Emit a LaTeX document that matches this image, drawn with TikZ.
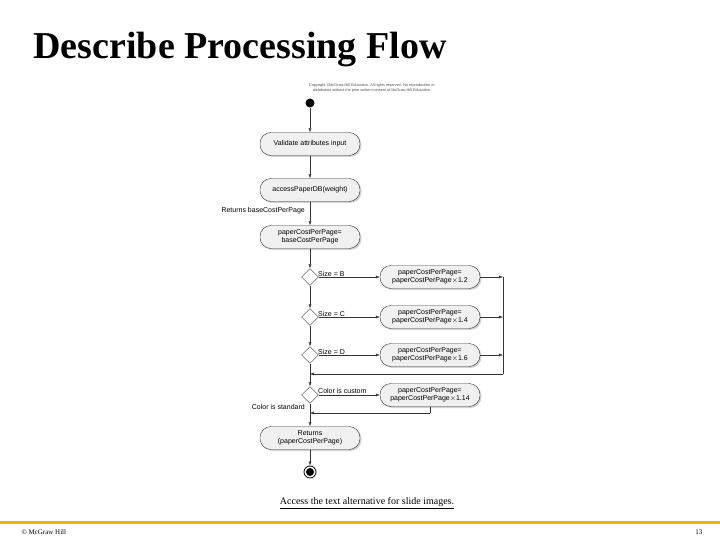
\documentclass[tikz,border=0pt]{standalone}
\usepackage{fontspec}
\setmainfont{Liberation Serif}
\newfontfamily\dsans{Liberation Sans}
\usetikzlibrary{shapes.geometric,arrows.meta,shadows}
\begin{document}
\begin{tikzpicture}[x=1pt,y=-1pt,
 act/.style={draw=black!80,fill=black!6,rounded corners=11pt,minimum width=100pt,minimum height=23pt,align=center,font=\dsans\fontsize{7}{8}\selectfont,drop shadow={shadow xshift=1.5pt,shadow yshift=-1.5pt,fill=black!35}},
 dec/.style={draw=black!80,fill=white,diamond,minimum width=17pt,minimum height=17pt,inner sep=0pt},
 lbl/.style={font=\dsans\fontsize{7}{8}\selectfont,inner sep=1pt},
 ar/.style={draw=black!80,-{Latex[length=4pt,width=3pt]}},
 ln/.style={draw=black!80}]
\useasboundingbox (0,0) rectangle (720,540);
\node[anchor=west,font=\bfseries\fontsize{38}{40}\selectfont] (title) at (30,50) {Describe Processing Flow};
\node[align=center,font=\dsans\fontsize{3.8}{4.4}\selectfont,text=black!70] (copy) at (372,88) {Copyright \copyright McGraw-Hill Education. All rights reserved. No reproduction or\\distribution without the prior written consent of McGraw-Hill Education.};
\node[circle,fill=black,minimum size=9pt,inner sep=0pt] (start) at (310,103) {};
\node[act] (v) at (310,144) {Validate attributes input};
\node[act] (a) at (310,190) {accessPaperDB(weight)};
\node[act] (p) at (310,237) {paperCostPerPage=\\baseCostPerPage};
\node[dec] (d1) at (310,277) {};
\node[dec] (d2) at (310,317) {};
\node[dec] (d3) at (310,355) {};
\node[dec] (d4) at (310,395) {};
\node[act] (b1) at (430,277) {paperCostPerPage=\\paperCostPerPage$\times$1.2};
\node[act] (b2) at (430,317) {paperCostPerPage=\\paperCostPerPage$\times$1.4};
\node[act] (b3) at (430,355) {paperCostPerPage=\\paperCostPerPage$\times$1.6};
\node[act] (b4) at (430,395) {paperCostPerPage=\\paperCostPerPage$\times$1.14};
\node[act] (r) at (310,438) {Returns\\(paperCostPerPage)};
\node[circle,draw=black,line width=0.8pt,minimum size=12pt,inner sep=0pt] (end) at (310,472) {};
\node[circle,fill=black,minimum size=8pt,inner sep=0pt] at (end) {};
\coordinate (m1) at (503,374);
\coordinate (m1l) at (310,374);
\coordinate (m2) at (430,413);
\coordinate (m2l) at (310,413);
\draw[ar] (start) -- (v);
\draw[ar] (v) -- (a);
\draw[ar] (a) -- (p);
\draw[ar] (p) -- (d1);
\draw[ar] (d1) -- (d2);
\draw[ar] (d2) -- (d3);
\draw[ln] (d3) -- (m1l);
\draw[ar] (m1l) -- (d4);
\draw[ar] (d4) -- (r);
\draw[ar] (r) -- (end);
\draw[ar] (d1) -- (b1);
\draw[ar] (d2) -- (b2);
\draw[ar] (d3) -- (b3);
\draw[ar] (d4) -- (b4);
\draw[ar] (b1) -- (503,277);
\draw[ar] (b2) -- (503,317);
\draw[ar] (b3) -- (503,355);
\draw[ln] (503,277) -- (m1);
\draw[ar] (m1) -- (m1l);
\draw[ln] (b4) -- (m2);
\draw[ar] (m2) -- (m2l);
\node[lbl,anchor=east] (rl) at (306,211) {Returns baseCostPerPage};
\node[lbl,anchor=south west] at (317,278) {Size = B};
\node[lbl,anchor=south west] at (317,318) {Size = C};
\node[lbl,anchor=south west] at (317,356) {Size = D};
\node[lbl,anchor=south west] at (317,395) {Color is custom};
\node[lbl,anchor=east] at (306,407) {Color is standard};
\node[font=\fontsize{10}{11}\selectfont] (alt) at (367,503) {\underline{Access the text alternative for slide images.}};
\fill[color={rgb,255:red,240;green,180;blue,0}] (0,520.5) rectangle (720,523.5);
\node[anchor=west,font=\fontsize{7}{8}\selectfont] (cr) at (18,532) {\copyright\ McGraw Hill};
\node[anchor=east,font=\fontsize{7}{8}\selectfont] (pg) at (706,532) {13};
\end{tikzpicture}
\end{document}
